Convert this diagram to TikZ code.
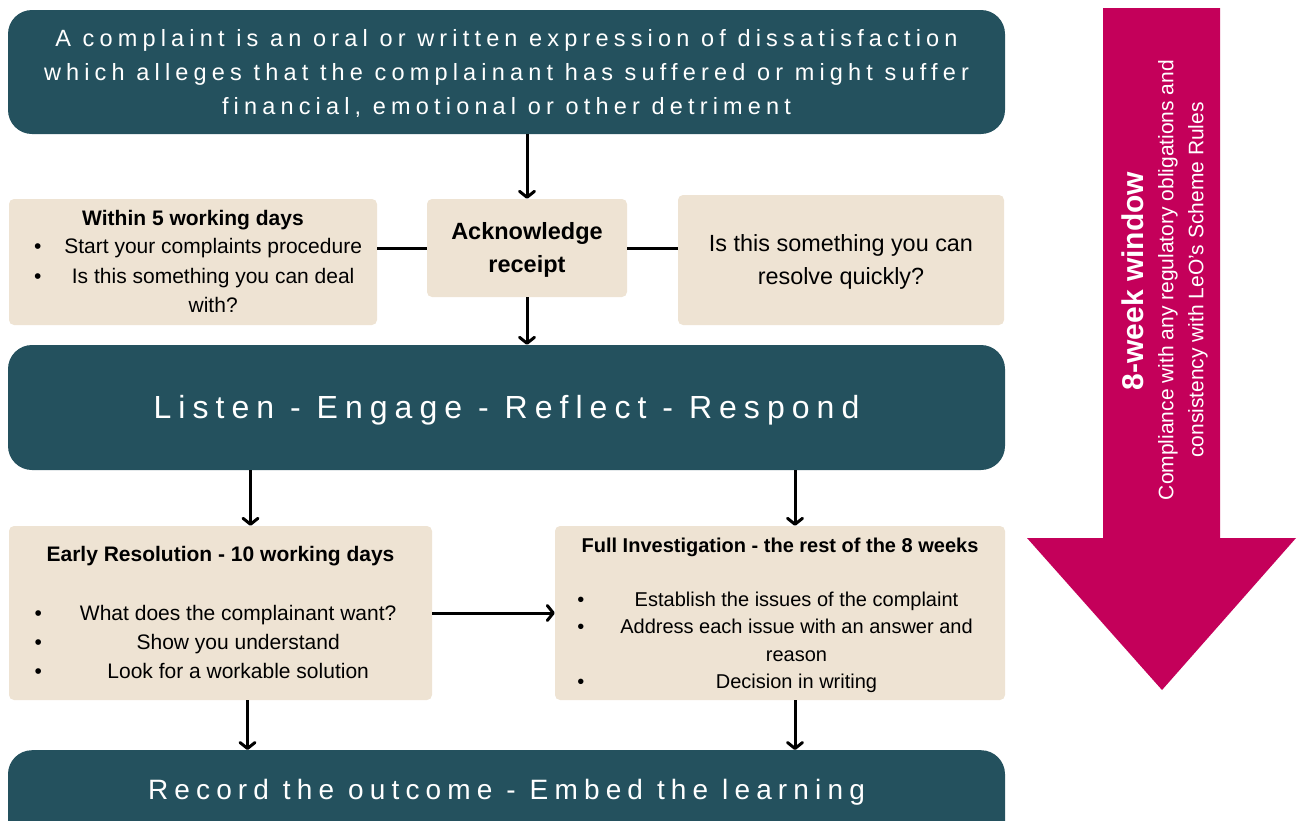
\documentclass[tikz,border=0pt]{standalone}
\usepackage{fontspec}
\setmainfont{Liberation Sans}
\newfontfamily\widefont[LetterSpace=22]{Liberation Sans}
\usepackage{array}
\usetikzlibrary{positioning,arrows.meta}
\definecolor{leoteal}{HTML}{24515E}
\definecolor{leosand}{HTML}{EEE3D3}
\definecolor{leopink}{HTML}{C4005A}
\tikzset{
  darkbox/.style={fill=leoteal, rounded corners=24pt, text=white, align=center, inner sep=0pt},
  sandbox/.style={fill=leosand, rounded corners=5pt, align=center, inner sep=0pt},
  link/.style={line width=3pt},
  flow/.style={line width=3pt, -{Straight Barb[length=6pt,width=15pt,round]}},
}
\newcommand{\bl}{\textbullet}
\newcommand{\dropby}[1]{\rule{0pt}{#1}}
\begin{document}
\begin{tikzpicture}[x=1pt, y=-1pt, line join=round]
  \path[use as bounding box] (0,0) rectangle (1297,820);
  \clip (0,0) rectangle (1297,820);
  \node[darkbox, minimum width=997, minimum height=124,
        font=\widefont\fontsize{23.5}{34}\selectfont] (def) at (506.5,72)
    {\dropby{20.3pt}A complaint is an oral or written expression of dissatisfaction\\
     which alleges that the complainant has suffered or might suffer\\
     financial, emotional or other detriment};
  \node[sandbox, minimum width=200, minimum height=98,
        font=\bfseries\fontsize{23.5}{33}\selectfont] (ack) at (527,248)
    {\dropby{21.3pt}Acknowledge\\receipt};
  \node[sandbox, minimum width=368, minimum height=126,
        font=\fontsize{21}{29.5}\selectfont] (within) at (193,262)
    {\dropby{23.4pt}\textbf{Within 5 working days}\\[2pt]
     \begin{tabular}{@{\hspace{10pt}}l@{\hspace{23pt}}c@{}}
       \bl & Start your complaints procedure\\
       \bl & Is this something you can deal\\
           & with?
     \end{tabular}};
  \node[sandbox, minimum width=326, minimum height=130,
        font=\fontsize{23.4}{33}\selectfont] (quick) at (841,260)
    {\dropby{21.2pt}Is this something you can\\resolve quickly?};
  \node[darkbox, minimum width=997, minimum height=125,
        font=\widefont\fontsize{32}{36}\selectfont] (listen) at (506.5,407.5)
    {\dropby{29.4pt}Listen - Engage - Reflect - Respond};
  \node[sandbox, minimum width=423, minimum height=174,
        font=\fontsize{21}{29}\selectfont] (early) at (220.5,613)
    {\dropby{23.4pt}\textbf{Early Resolution - 10 working days}\\[33pt]
     \begin{tabular}{@{}l@{\hspace{38pt}}c@{\hspace{10pt}}}
       \bl & What does the complainant want?\\
       \bl & Show you understand\\
       \bl & Look for a workable solution
     \end{tabular}};
  \node[sandbox, minimum width=450, minimum height=174,
        font=\fontsize{20}{27.3}\selectfont] (full) at (780,613)
    {\dropby{22.7pt}\textbf{Full Investigation - the rest of the 8 weeks}\\[30pt]
     \begin{tabular}{@{}l@{\hspace{36pt}}c@{\hspace{10pt}}}
       \bl & Establish the issues of the complaint\\
       \bl & Address each issue with an answer and\\
           & reason\\
       \bl & Decision in writing
     \end{tabular}};
  \node[darkbox, minimum width=997, minimum height=130, anchor=north] (record) at (506.5,750) {};
  \node[text=white, font=\widefont\fontsize{28}{34}\selectfont] (recordtext) at (506.5,792)
    {Record the outcome - Embed the learning};
  % connectors
  \draw[flow] (def.south -| ack) -- (ack.north);
  \draw[flow] (ack.south) -- (ack.south |- listen.north);
  \draw[link] (ack.west) -- (ack.west -| within.east);
  \draw[link] (ack.east) -- (ack.east -| quick.west);
  \draw[flow] ([xshift=30pt]early.north |- listen.south) -- ([xshift=30pt]early.north);
  \draw[flow] ([xshift=15pt]full.north |- listen.south) -- ([xshift=15pt]full.north);
  \draw[flow] (early.east) -- (full.west);
  \draw[flow] ([xshift=27pt]early.south) -- ([xshift=27pt]early.south |- record.north);
  \draw[flow] ([xshift=15pt]full.south) -- ([xshift=15pt]full.south |- record.north);
  % 8-week arrow
  \fill[leopink] (1103,8) -- (1220,8) -- (1220,538) -- (1296,538) -- (1162,690)
    -- (1027,538) -- (1103,538) -- cycle;
  \node[rotate=90, text=white, font=\bfseries\fontsize{30}{30}\selectfont] (window) at (1133,281)
    {8-week window};
  \node[rotate=90, text=white, align=center, font=\fontsize{21}{30}\selectfont] (rules) at (1183,280)
    {Compliance with any regulatory obligations and\\consistency with LeO's Scheme Rules};
\end{tikzpicture}
\end{document}
